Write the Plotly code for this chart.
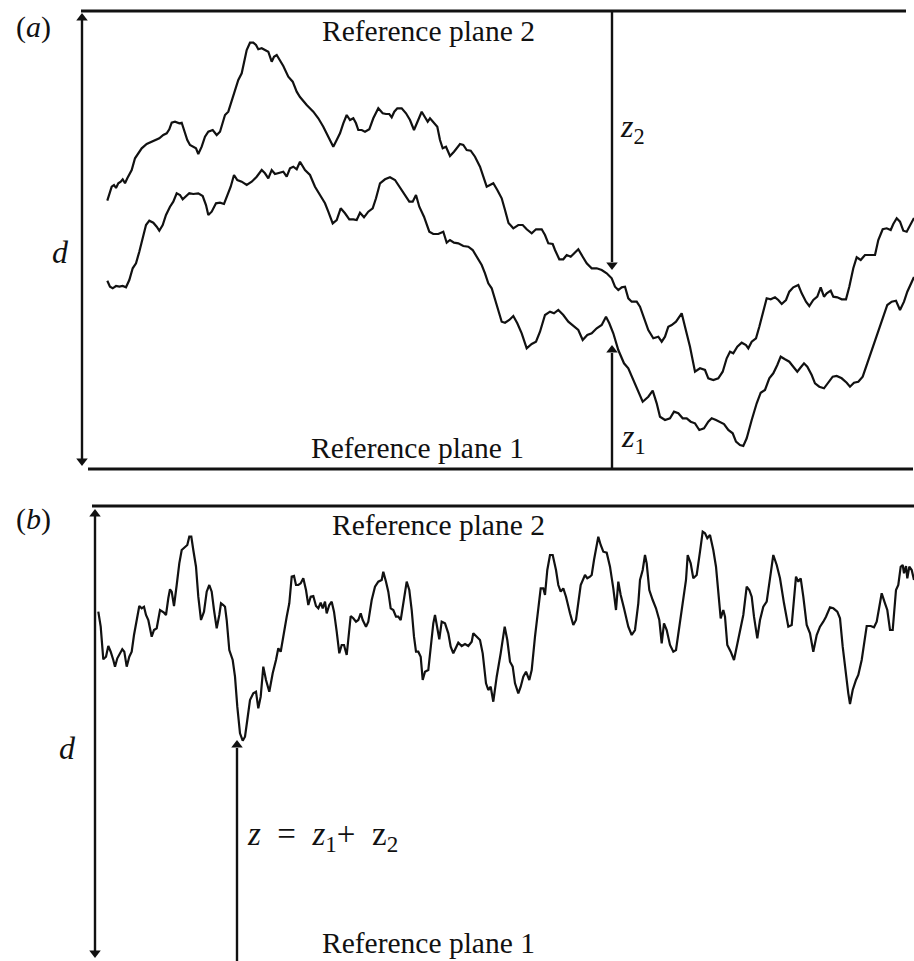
import plotly.graph_objects as go

# ---------------- data (pixel-space coordinates) ----------------
# Panel (a): rough surface 2 (upper profile)
SURF2_A = [
    (107.3, 200.7), (111.7, 186.7), (114, 185), (116, 188), (118.3, 183.3), (120.7, 181.7),
    (122.7, 179.3), (125, 183.3), (127.3, 178.3), (131.7, 170), (135, 158.3), (138.3, 152.7),
    (141.7, 148.3), (146.7, 144), (150.7, 142), (155, 140), (159.3, 138.3), (163.3, 135),
    (166.7, 133.3), (169.3, 129.3), (171.7, 122.7), (175, 121.7), (179.3, 123.3), (181.7, 122.7),
    (184, 130), (187.3, 140), (190, 145), (193.3, 146.7), (196, 148.3), (198.3, 154),
    (201.7, 146.7), (205, 136.7), (208.3, 131.7), (212.7, 130), (216.7, 135), (220, 131.7),
    (222.7, 123.3), (225, 115), (228.3, 111.7), (231.7, 101.7), (235, 90), (238.3, 80),
    (241.7, 73.3), (244, 63.3), (246.7, 50), (250, 42.7), (253.3, 42.7), (256, 45),
    (258.3, 49.3), (261.7, 48.3), (265, 50), (268.3, 51.7), (271.7, 61.7), (274, 56.7),
    (276.7, 55), (280, 60), (283.3, 66), (288.3, 76.7), (292.7, 81.7), (296.7, 91.7),
    (300, 97), (306.7, 105), (313.3, 111.7), (318.3, 118.3), (323.3, 126.7), (328.3, 136.7),
    (333.3, 146.7), (336.7, 140), (340, 133.3), (343.3, 123.3), (346.7, 115), (350, 120),
    (353.3, 118.3), (356, 123.3), (358.3, 130), (361.7, 130), (365, 131.7), (369.3, 129.3),
    (373.3, 118.3), (378.3, 108.3), (382.7, 113.3), (386, 114), (389.3, 114), (391.7, 117.3),
    (394.3, 111.7), (397.3, 108.3), (401.7, 108.3), (406, 113.3), (410, 120), (414, 130),
    (418.3, 120), (421.7, 111.7), (425, 117.3), (427.7, 121.7), (430, 118.3), (433.3, 121.7),
    (437.3, 126.7), (440, 140), (442.7, 148.3), (446, 146.7), (450, 156), (454, 151.7),
    (456.7, 148.3), (460, 144), (463.3, 145), (466.7, 150), (470.7, 150.7), (475, 156.7),
    (480, 166.7), (483.3, 176.7), (486.7, 186.7), (490, 185), (493.3, 183.3), (497.3, 190),
    (501.7, 198.3), (505, 210), (508.5, 223), (513.3, 228.3), (518.3, 225), (522.7, 225),
    (526.7, 229.3), (531.7, 233.3), (536, 229.3), (541.7, 229.3), (545, 235), (548.3, 243.3),
    (552.7, 244), (555, 250), (559.3, 259.3), (563.3, 259.3), (566.7, 255), (570.7, 256.7),
    (574, 253.3), (578.3, 249.3), (582.7, 256.7), (586.7, 263.3), (591.7, 268.3), (596.7, 268.3),
    (601.7, 270), (606.7, 273.3), (611.7, 278.3), (615, 286.7), (618.3, 290), (621.7, 287.3),
    (625, 286.7), (628.3, 298.3), (631.7, 301.7), (636.7, 301.7), (640, 306.7), (643.3, 316.7),
    (648.3, 330), (653.3, 338.3), (658.3, 336.7), (661.7, 341.7), (665, 336.7), (668.3, 326.7),
    (671.7, 325), (676, 321.7), (681.7, 313.3), (685, 326.7), (690, 346.7), (695, 371.7),
    (700, 368.3), (705, 370), (708.3, 378.3), (713.3, 380), (718.3, 378.3), (722.7, 371.7),
    (726.7, 358.3), (730, 351.7), (733.3, 353.3), (737.3, 346.7), (741.7, 342.7), (746, 345),
    (748.3, 348.3), (751.7, 341.7), (756, 338.3), (759.3, 326.7), (763.3, 311.7), (766.7, 298.3),
    (770.7, 299.3), (775, 297.3), (778.3, 300), (781.7, 304), (786, 300), (789.3, 291.7),
    (793.3, 287.3), (798.3, 285), (801.7, 293.3), (806, 301.7), (809.3, 306), (813.3, 300),
    (817.3, 296.7), (820.7, 287.3), (824, 296.7), (826.7, 293.3), (830.7, 290.7), (833.3, 296.7),
    (837.3, 297.3), (841.7, 299.3), (846, 299.3), (849.3, 286.7), (853.3, 268.3), (856.7, 257.3),
    (860.7, 260), (865, 255), (870, 255), (875, 255), (878.3, 240), (882.7, 229.3),
    (886.7, 228.3), (890.7, 230), (893.3, 224), (896.7, 218.3), (900, 221.7), (903.3, 230.7),
    (906.7, 231.7), (910, 225), (914, 218),
]

# Panel (a): rough surface 1 (lower profile)
SURF1_A = [
    (107.3, 280.7), (110, 286.7), (112.7, 288.3), (116, 286), (119.3, 286.7), (122.7, 286),
    (126, 287.3), (129.3, 280), (132.7, 268.3), (136, 263.3), (139.3, 251.7), (142.7, 236.7),
    (146, 225), (149.3, 220.7), (153.3, 222.7), (156.7, 226.7), (159.3, 230.7), (162.7, 225),
    (166, 215), (170, 206.7), (173.3, 201.7), (176.7, 193.3), (180, 195), (182.7, 199.3),
    (186, 196.7), (189.3, 193.3), (193.3, 194), (198.3, 193.3), (202.7, 196), (206, 205),
    (208.3, 215), (211.7, 211.7), (216, 203.3), (220, 202.7), (224, 204), (227.3, 195),
    (230.7, 186.7), (234, 175), (237.3, 180), (241.7, 181.7), (246.7, 185), (251.7, 181.7),
    (256.7, 176.7), (261.7, 170), (265, 173.3), (268.3, 178.3), (271.7, 170), (275, 174),
    (280, 172.7), (283.3, 171.7), (286.7, 176.7), (290, 168.3), (293.3, 166.7), (296.7, 169.3),
    (300, 161.7), (303.3, 166.7), (305, 170), (310, 175), (315, 186.7), (320, 195),
    (325, 203.3), (328.3, 211.7), (332.7, 223.3), (336.7, 220), (340.7, 208.3), (345, 213.3),
    (349.3, 219.3), (353.3, 219.3), (356.7, 220), (360, 212.7), (364, 217.3), (368.3, 211.7),
    (372.7, 208.3), (376, 198.3), (380, 183.3), (385, 179.3), (390, 177.3), (395, 180),
    (399.3, 186.7), (404, 192.7), (409.3, 201.7), (412.7, 201.7), (416, 195), (419.3, 206.7),
    (424, 216.7), (429.3, 231.7), (433.3, 234), (438.3, 234), (443.3, 231.7), (446.7, 242.7),
    (450, 240), (454, 242.7), (458.3, 243.3), (463.3, 246), (468.3, 246.7), (472.7, 250),
    (476.7, 256.7), (481.7, 265), (485, 273.3), (488.3, 283.3), (491.7, 288.3), (495, 300),
    (498.3, 310), (501.7, 321.7), (505, 322.7), (509.3, 320), (513.3, 316), (517.3, 323.3),
    (521.7, 333.3), (526.7, 348.3), (531.7, 344), (536, 341.7), (540, 331.7), (545, 315),
    (550, 311.7), (554, 313.3), (558.3, 310), (563.3, 315), (568.3, 321.7), (574, 326),
    (578.3, 330), (582.7, 340), (587.3, 335), (591.7, 333.3), (596.7, 328.3), (601.7, 325),
    (606, 316.7), (609.3, 323.3), (613.3, 333.3), (618.3, 350), (624, 363.3), (628.3, 368.3),
    (632.7, 378.3), (637.3, 390), (642.7, 401.7), (648.3, 396.7), (652.7, 390.7), (656.7, 403.3),
    (660, 416.7), (665, 420), (670, 418.3), (674, 411.7), (678.3, 413.3), (682.7, 418.3),
    (686.7, 418.3), (690.7, 421.7), (695, 423.3), (699.3, 430), (704, 428.3), (708.3, 421.7),
    (711.7, 418.3), (716, 420), (720, 421.7), (724, 424), (728.3, 430), (732.7, 433.3),
    (736, 441.7), (740, 445), (743.3, 446), (746.7, 438.3), (751.7, 420), (756.7, 403.3),
    (760.7, 392.7), (765, 390), (769.3, 378.3), (773.3, 373.3), (777.3, 365), (780.7, 356.7),
    (785, 359.3), (789.3, 361.7), (793.3, 366.7), (797.3, 371.7), (800, 368.3), (804, 363.3),
    (807.3, 366.7), (811.7, 375), (815, 383.3), (819.3, 386.7), (824, 388.3), (828.3, 382.7),
    (832.7, 376.7), (836.7, 376), (841.7, 378.3), (846.7, 382.7), (850, 386.7), (854, 382.7),
    (858.3, 381.7), (862.7, 376.7), (866.7, 365), (870.7, 353.3), (875, 340), (879.3, 326.7),
    (883.3, 315), (887.3, 305), (891.7, 301.7), (896, 300.7), (900, 310), (904, 301.7),
    (907.3, 291.7), (910.7, 285), (914, 277),
]

# Panel (b): composite surface z = z1 + z2
SURF_B = [
    (98.3, 611.7), (100.7, 626.7), (103.3, 659.3), (106, 656.7), (108.3, 646), (110.7, 651.7),
    (113.3, 660), (115, 666.7), (117.3, 658.3), (120, 653.3), (122.3, 649.3), (124.3, 651.7),
    (126.7, 666.7), (129.3, 656.7), (131.7, 651.7), (134, 635), (136.7, 620), (139.3, 606),
    (141.7, 608.3), (144, 606.7), (146, 615), (148.3, 620), (151.7, 636.7), (154, 630),
    (156.7, 628.3), (160, 610), (164, 612.7), (166, 615), (168.3, 598.3), (170, 589.3),
    (171.7, 591.7), (174, 606), (176.7, 585), (179.3, 563.3), (181.7, 550), (185, 546.7),
    (187.3, 545), (189.3, 536.7), (191.3, 536.7), (193.3, 550), (196, 566.7), (198.3, 596.7),
    (201, 620), (204, 611.7), (206.7, 591.7), (209.3, 585), (211.7, 591.7), (214, 610),
    (216.7, 628.3), (219.3, 615), (221, 603.3), (223.3, 605), (225, 606.7), (226.7, 620),
    (229.3, 650), (232.7, 660), (235, 676.7), (237.3, 706.7), (240, 733.3), (242.7, 740.7),
    (245, 736.7), (247.3, 720), (250, 700), (253.3, 693.3), (256, 691.7), (258.3, 708.3),
    (260.7, 696.7), (263.3, 666.7), (266, 680), (269.3, 691.7), (272.7, 673.3), (276, 660),
    (278.3, 648.3), (280.7, 651.7), (283.3, 635), (286.7, 616.7), (289.3, 603.3), (291.7, 576.7),
    (294, 576), (296, 585), (298.3, 585), (300.7, 583.3), (303.3, 578.3), (306, 590),
    (308.3, 605), (310.7, 596.7), (313.3, 596), (316, 606), (318.3, 608.3), (320.7, 602.7),
    (322.7, 608.3), (325, 601.7), (326.7, 613.3), (329.3, 605), (331.7, 601.7), (334, 611.7),
    (336.7, 631.7), (339.3, 653.3), (341.7, 645), (344, 645), (346.7, 655), (348.3, 636.7),
    (350.7, 616), (353.3, 618.3), (356, 621.7), (358.3, 620), (360.7, 613.3), (362.7, 620),
    (366, 626.7), (368.3, 621.7), (371.7, 600), (375, 586.7), (378.3, 581.7), (381.7, 580),
    (383.3, 571.7), (386, 581.7), (388.3, 591.7), (390.7, 608.3), (393.3, 610), (396, 616.7),
    (398.3, 616.7), (400.7, 620), (402.7, 606.7), (405, 590), (406.7, 581.7), (409.3, 590),
    (411.7, 610), (414, 636.7), (416, 651.7), (418.3, 651.7), (420.7, 656.7), (422.7, 680),
    (425, 671.7), (428.3, 670), (430.7, 646.7), (433.3, 623.3), (435, 615), (437.3, 630),
    (439.3, 639.3), (441.7, 621.7), (445, 623.3), (448.3, 633.3), (450.7, 646.7), (453.3, 653.3),
    (456, 646.7), (458.3, 642.7), (461.7, 646), (465, 644), (468.3, 646), (471.7, 641.7),
    (473.3, 633.3), (476.7, 636.7), (480, 640), (482.7, 653.3), (486, 683.3), (488.3, 690),
    (490.7, 686.7), (493.3, 701.7), (496.7, 676.7), (500.7, 653.3), (504.7, 626.7), (507.3, 640),
    (510, 661.7), (512.7, 666.7), (515, 683.3), (518.3, 693.3), (520.7, 686.7), (523.3, 676.7),
    (526, 671.7), (529.3, 680), (531.7, 670), (535, 636.7), (538.3, 606.7), (540.7, 588.3),
    (543.3, 588.3), (545, 595), (547.3, 570), (550, 555), (552.7, 555), (556, 570),
    (558.3, 585), (560.7, 591.7), (563.3, 588.3), (566, 596.7), (570, 613.3), (573.3, 625),
    (576, 620), (578.3, 601.7), (580.7, 585), (585, 575), (587.3, 578.3), (590, 576.7),
    (591.7, 575), (594, 560), (596.7, 546.7), (598.3, 536.7), (600.7, 545), (603.3, 551.7),
    (606.7, 552.7), (610, 566.7), (613.3, 588.3), (616, 610), (618.3, 581.7), (620.7, 595),
    (624, 608.3), (628.3, 626.7), (631.7, 635), (635, 630), (638.3, 603.3), (640, 580),
    (642.7, 570), (645, 555), (646.7, 563.3), (649.3, 590), (652.7, 600), (656, 608.3),
    (659.3, 620), (661.7, 643.3), (664, 623.3), (666.7, 630), (670, 645), (673.3, 651.7),
    (676, 650), (680, 623.3), (683.3, 600), (686, 580), (687.7, 555), (690.7, 563.3),
    (693.3, 578.3), (696.7, 575), (700, 551.7), (702.7, 531.7), (705, 533.3), (707.3, 538.3),
    (710, 535), (713.3, 550), (716, 566.7), (718.3, 593.3), (720.7, 618.3), (723.3, 610),
    (725, 616.7), (727.3, 645), (730.7, 651.7), (734, 660), (737.3, 643.3), (740.7, 625),
    (743.3, 615), (746.7, 586.7), (749.3, 590), (751.7, 596.7), (754, 616.7), (757.3, 638.3),
    (760, 620), (763.3, 606.7), (766.7, 601.7), (770, 578.3), (773.3, 555), (776.7, 565),
    (780, 578.3), (784, 603.3), (788.3, 626.7), (791.7, 625), (794, 600), (796, 576.7),
    (798.3, 581.7), (800.7, 578.3), (803.3, 596.7), (806.7, 625), (810, 633.3), (813.3, 651.7),
    (816.7, 635), (820, 626.7), (823.3, 621.7), (826, 616.7), (830, 607.3), (833.3, 608.3),
    (837.3, 611.7), (840, 618.3), (842.7, 646.7), (846, 678.3), (848.3, 693.3), (850, 704),
    (852.7, 690), (856, 680), (858.3, 675), (861.7, 660), (864, 643.3), (866.7, 626),
    (870.7, 626), (874, 627.3), (876.7, 621.7), (879.3, 608.3), (881.7, 593.3), (885, 603.3),
    (887.3, 610), (890, 630), (892.7, 630), (896, 590), (898.3, 585), (900.7, 566.7),
    (902.7, 565), (904, 573.3), (906, 566), (907.3, 578.3), (909.3, 566.7), (911.7, 570),
    (914, 580),
]

PANEL_LABELS = ["(<i>a</i>)", "(<i>b</i>)"]
PLANE_LABELS = ["Reference plane 2", "Reference plane 1"]
Z_LABELS = ["<i>z</i><sub>2</sub>", "<i>z</i><sub>1</sub>",
            "<i>z</i>&#160;&#160;=&#160;&#160;<i>z</i><sub>1</sub>+&#160;&#160;z<sub>2</sub>"]

FONT = "Liberation Serif, Times New Roman, serif"
INK = "#111111"

fig = go.Figure()

for pts in (SURF2_A, SURF1_A, SURF_B):
    xs, ys = zip(*pts)
    fig.add_trace(go.Scatter(x=list(xs), y=list(ys), mode="lines",
                             line=dict(color=INK, width=2.2), hoverinfo="skip",
                             showlegend=False))

# reference plane lines and arrow shafts
shapes = [
    dict(x0=81, x1=906, y0=11, y1=11, w=3),
    dict(x0=88, x1=913, y0=469, y1=469, w=3),
    dict(x0=92, x1=914, y0=506, y1=506, w=3),
    dict(x0=82, x1=82, y0=20, y1=459, w=2.4),      # (a) d
    dict(x0=612, x1=612, y0=11, y1=262, w=2.4),    # (a) z2
    dict(x0=612, x1=612, y0=353, y1=469, w=2.4),   # (a) z1
    dict(x0=95, x1=95, y0=516, y1=951, w=2.4),     # (b) d
    dict(x0=237, x1=237, y0=748, y1=961, w=2.4),   # (b) z
]
fig.update_layout(shapes=[
    dict(type="line", xref="x", yref="y", x0=s["x0"], x1=s["x1"], y0=s["y0"], y1=s["y1"],
         line=dict(color=INK, width=s["w"])) for s in shapes
])

# arrowheads (tip positions) drawn as triangle markers
HEADS_UP = [(82, 13), (612, 345), (95, 509), (237, 740)]
HEADS_DOWN = [(82, 466), (612, 270), (95, 958)]
hs = 10
fig.add_trace(go.Scatter(x=[p[0] for p in HEADS_UP], y=[p[1] + hs / 2 for p in HEADS_UP],
                         mode="markers", marker=dict(symbol="triangle-up", size=hs, color=INK,
                                                     line=dict(width=0)),
                         hoverinfo="skip", showlegend=False))
fig.add_trace(go.Scatter(x=[p[0] for p in HEADS_DOWN], y=[p[1] - hs / 2 for p in HEADS_DOWN],
                         mode="markers", marker=dict(symbol="triangle-down", size=hs, color=INK,
                                                     line=dict(width=0)),
                         hoverinfo="skip", showlegend=False))

def text(x, y, s, size, xanchor="center"):
    fig.add_annotation(x=x, y=y, xref="x", yref="y", text=s, showarrow=False,
                       xanchor=xanchor, yanchor="middle",
                       font=dict(family=FONT, size=size, color=INK))

text(33, 27, PANEL_LABELS[0], 30)
text(33, 519, PANEL_LABELS[1], 30)
text(428, 31, PLANE_LABELS[0], 29.5)
text(417, 448, PLANE_LABELS[1], 29.5)
text(438, 525, PLANE_LABELS[0], 29.5)
text(428, 943, PLANE_LABELS[1], 29.5)
text(60, 252, "<i>d</i>", 32)
text(67, 748, "<i>d</i>", 32)
text(618, 128, Z_LABELS[0], 32, xanchor="left")
text(619, 438, Z_LABELS[1], 32, xanchor="left")
text(245, 836, Z_LABELS[2], 33, xanchor="left")

fig.update_layout(
    width=914, height=961,
    margin=dict(l=0, r=0, t=0, b=0),
    paper_bgcolor="white", plot_bgcolor="white",
    xaxis=dict(range=[0, 914], visible=False, fixedrange=True),
    yaxis=dict(range=[961, 0], visible=False, fixedrange=True),
    hovermode=False,
)

fig.write_html("out.html")
